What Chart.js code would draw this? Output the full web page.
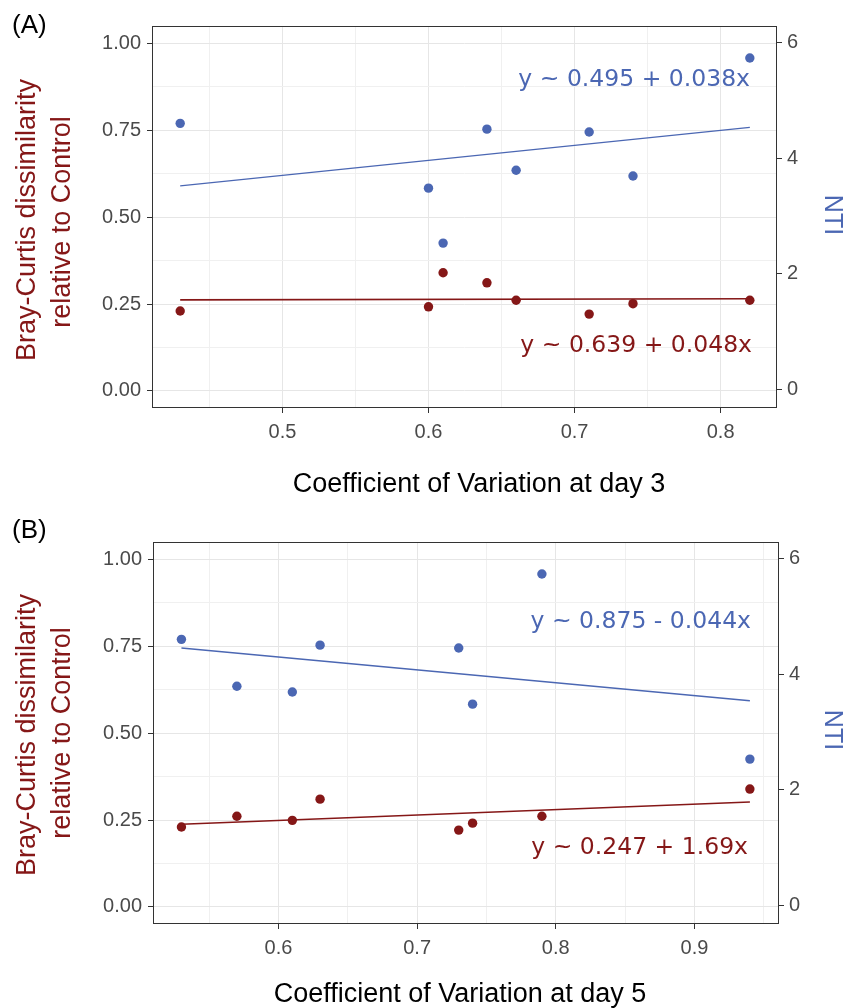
<!DOCTYPE html>
<html>
<head>
<meta charset="utf-8">
<script src="https://cdn.jsdelivr.net/npm/chart.js@4.4.1/dist/chart.umd.min.js"></script>
<style>
  html, body { margin: 0; padding: 0; background: #ffffff; }
  #wrap { position: relative; width: 847px; height: 1008px; overflow: hidden; }
  canvas { position: absolute; left: 0; }
</style>
</head>
<body>
<div id="wrap">
  <canvas id="panelA" width="847" height="500" style="top:0px"></canvas>
  <canvas id="panelB" width="847" height="508" style="top:500px"></canvas>
</div>
<script>
// ---------------- data ----------------
const cvDay3   = [0.43, 0.60, 0.61, 0.64, 0.66, 0.71, 0.74, 0.82];
const brayDay3 = [0.230, 0.242, 0.340, 0.311, 0.261, 0.221, 0.251, 0.261];
const ntiDay3  = [4.60, 3.48, 2.53, 4.50, 3.79, 4.45, 3.69, 5.73];
const fitXDay3    = [0.43, 0.82];
const fitBrayDay3 = [0.262, 0.265];
const fitNtiDay3  = [3.52, 4.53];

const cvDay5   = [0.53, 0.57, 0.61, 0.63, 0.73, 0.74, 0.79, 0.94];
const brayDay5 = [0.230, 0.261, 0.249, 0.310, 0.221, 0.241, 0.261, 0.339];
const ntiDay5  = [4.60, 3.79, 3.69, 4.50, 4.45, 3.48, 5.73, 2.53];
const fitXDay5    = [0.53, 0.94];
const fitBrayDay5 = [0.238, 0.302];
const fitNtiDay5  = [4.45, 3.54];

const xTicksDay3 = [0.5, 0.6, 0.7, 0.8];
const xMinorDay3 = [0.45, 0.55, 0.65, 0.75];
const xTicksDay5 = [0.6, 0.7, 0.8, 0.9];
const xMinorDay5 = [0.55, 0.65, 0.75, 0.85, 0.95];
const brayTicks  = [0, 0.25, 0.5, 0.75, 1.0];
const brayMinor  = [0.125, 0.375, 0.625, 0.875];
const ntiTicks   = [0, 2, 4, 6];

const eqNtiDay3  = 'y ~ 0.495 + 0.038x';
const eqBrayDay3 = 'y ~ 0.639 + 0.048x';
const eqNtiDay5  = 'y ~ 0.875 - 0.044x';
const eqBrayDay5 = 'y ~ 0.247 + 1.69x';

// ---------------- styles ----------------
const BLUE = '#4B67B3';
const RED  = '#851717';
const GRID_MAJOR = '#E6E6E6';
const GRID_MINOR = '#F0F0F0';
const AXIS = '#333333';
const TICKTXT = '#4A4A4A';

function tickList(major, minor) {
  return major.map(v => ({ value: v, isMinor: false }))
    .concat(minor.map(v => ({ value: v, isMinor: true })))
    .sort((a, b) => a.value - b.value);
}
function pts(xs, ys) { return xs.map((x, i) => ({ x: x, y: ys[i] })); }

function makePanel(id, p) {
  const textPlugin = {
    id: 'texts_' + id,
    afterDraw(chart) {
      const ctx = chart.ctx;
      const a = chart.chartArea;
      const oy = p.offsetY;
      ctx.save();
      // panel border
      ctx.strokeStyle = AXIS;
      ctx.lineWidth = 1;
      ctx.strokeRect(a.left + 0.5, a.top + 0.5, a.right - a.left - 1, a.bottom - a.top - 1);
      // panel label
      ctx.fillStyle = '#000000';
      ctx.font = '26px "Liberation Sans", Arial, sans-serif';
      ctx.textAlign = 'left';
      ctx.textBaseline = 'alphabetic';
      ctx.fillText(p.label, 12, p.labelBase - oy);
      // x title
      ctx.font = '27px "Liberation Sans", Arial, sans-serif';
      ctx.textAlign = 'center';
      ctx.fillText(p.xTitle, p.xTitleX, p.xTitleBase - oy);
      // left y title (two lines, rotated)
      ctx.fillStyle = RED;
      ctx.save();
      ctx.translate(35, p.yTitle1Y - oy);
      ctx.rotate(-Math.PI / 2);
      ctx.fillText('Bray-Curtis dissimilarity', 0, 0);
      ctx.restore();
      ctx.save();
      ctx.translate(69.5, p.yTitle2Y - oy);
      ctx.rotate(-Math.PI / 2);
      ctx.fillText('relative to Control', 0, 0);
      ctx.restore();
      // right title NTI (rotated clockwise)
      ctx.fillStyle = BLUE;
      ctx.font = '25px "Liberation Sans", Arial, sans-serif';
      ctx.save();
      ctx.translate(825, p.ntiY - oy);
      ctx.rotate(Math.PI / 2);
      ctx.fillText('NTI', 0, 0);
      ctx.restore();
      // equations
      ctx.font = '23.5px "DejaVu Sans", Verdana, sans-serif';
      ctx.textAlign = 'right';
      ctx.fillStyle = BLUE;
      ctx.fillText(p.eqBlue, p.eqBlueX, p.eqBlueBase - oy);
      ctx.fillStyle = RED;
      ctx.fillText(p.eqRed, p.eqRedX, p.eqRedBase - oy);
      ctx.restore();
    }
  };

  const gridColor = c => (c.tick && c.tick.isMinor) ? GRID_MINOR : GRID_MAJOR;
  const tickColor = c => (c.tick && c.tick.isMinor) ? 'rgba(0,0,0,0)' : AXIS;
  const tickFont = { family: '"Liberation Sans", Arial, sans-serif', size: 20 };

  return new Chart(document.getElementById(id), {
    type: 'scatter',
    data: {
      datasets: [
        { type: 'line', data: pts(p.fitX, p.fitNti), yAxisID: 'y2', borderColor: BLUE, borderWidth: 1.4,
          pointRadius: 0, fill: false, tension: 0, order: 3 },
        { type: 'line', data: pts(p.fitX, p.fitBray), yAxisID: 'y', borderColor: RED, borderWidth: 1.6,
          pointRadius: 0, fill: false, tension: 0, order: 3 },
        { data: pts(p.cv, p.nti), yAxisID: 'y2', backgroundColor: BLUE, borderColor: BLUE,
          pointRadius: 4.7, borderWidth: 0, order: 1 },
        { data: pts(p.cv, p.bray), yAxisID: 'y', backgroundColor: RED, borderColor: RED,
          pointRadius: 4.7, borderWidth: 0, order: 1 }
      ]
    },
    options: {
      responsive: false,
      animation: false,
      devicePixelRatio: 1,
      layout: { padding: { top: p.padTop, left: 0, right: 0, bottom: 0 } },
      plugins: { legend: { display: false }, tooltip: { enabled: false } },
      scales: {
        x: {
          type: 'linear', min: p.xMin, max: p.xMax,
          afterBuildTicks: s => { s.ticks = tickList(p.xTicks, p.xMinor); },
          afterFit: s => { s.height = p.xHeight; },
          ticks: { autoSkip: false, maxRotation: 0, color: TICKTXT, font: tickFont, padding: 7,
                   callback: (v, i, t) => t[i].isMinor ? '' : v.toFixed(1) },
          grid: { color: gridColor, tickColor: tickColor, lineWidth: 1, tickLength: 5, drawTicks: true },
          border: { display: false }
        },
        y: {
          type: 'linear', position: 'left', min: -0.049, max: 1.0495,
          afterBuildTicks: s => { s.ticks = tickList(brayTicks, brayMinor); },
          afterFit: s => { s.width = p.leftW; },
          ticks: { autoSkip: false, color: TICKTXT, font: tickFont, padding: 6,
                   callback: (v, i, t) => t[i].isMinor ? '' : v.toFixed(2) },
          grid: { color: gridColor, tickColor: tickColor, lineWidth: 1, tickLength: 5 },
          border: { display: false }
        },
        y2: {
          type: 'linear', position: 'right', min: -0.32, max: 6.283,
          afterBuildTicks: s => { s.ticks = ntiTicks.map(v => ({ value: v, isMinor: false })); },
          afterFit: s => { s.width = p.rightW; },
          ticks: { autoSkip: false, color: TICKTXT, font: tickFont, padding: 5,
                   callback: v => String(v) },
          grid: { drawOnChartArea: false, tickColor: AXIS, tickLength: 5 },
          border: { display: false }
        }
      }
    },
    plugins: [textPlugin]
  });
}

makePanel('panelA', {
  offsetY: 0, label: '(A)', labelBase: 33,
  cv: cvDay3, bray: brayDay3, nti: ntiDay3,
  fitX: fitXDay3, fitBray: fitBrayDay3, fitNti: fitNtiDay3,
  xMin: 0.4107, xMax: 0.8386, xTicks: xTicksDay3, xMinor: xMinorDay3,
  padTop: 26, xHeight: 92, leftW: 152, rightW: 70,
  xTitle: 'Coefficient of Variation at day 3', xTitleX: 479, xTitleBase: 492,
  yTitle1Y: 220, yTitle2Y: 222, ntiY: 215,
  eqBlue: eqNtiDay3, eqBlueX: 750, eqBlueBase: 86,
  eqRed: eqBrayDay3, eqRedX: 752, eqRedBase: 352
});

makePanel('panelB', {
  offsetY: 500, label: '(B)', labelBase: 538,
  cv: cvDay5, bray: brayDay5, nti: ntiDay5,
  fitX: fitXDay5, fitBray: fitBrayDay5, fitNti: fitNtiDay5,
  xMin: 0.5095, xMax: 0.961, xTicks: xTicksDay5, xMinor: xMinorDay5,
  padTop: 42, xHeight: 84, leftW: 153, rightW: 68,
  xTitle: 'Coefficient of Variation at day 5', xTitleX: 460, xTitleBase: 1002,
  yTitle1Y: 735, yTitle2Y: 733, ntiY: 730,
  eqBlue: eqNtiDay5, eqBlueX: 751, eqBlueBase: 628,
  eqRed: eqBrayDay5, eqRedX: 748, eqRedBase: 854
});
</script>
</body>
</html>
